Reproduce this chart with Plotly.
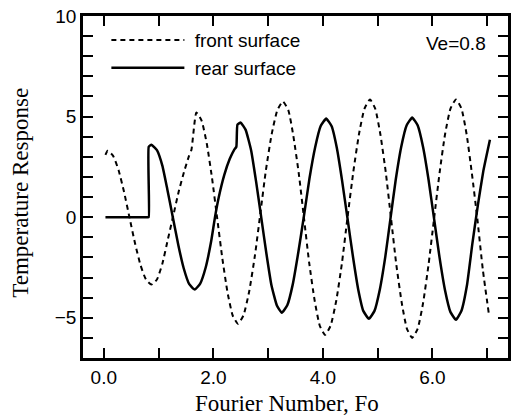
import plotly.graph_objects as go

# Front surface (dashed)
front_x = [0.03, 0.07, 0.17, 0.27, 0.37, 0.47, 0.57, 0.67, 0.77, 0.87,
           0.97, 1.07, 1.17, 1.27, 1.37, 1.47, 1.55, 1.60, 1.69,
           1.785, 1.88, 1.975, 2.07, 2.165, 2.26, 2.355, 2.45,
           2.55, 2.655, 2.76, 2.86, 2.96, 3.065, 3.17, 3.27,
           3.37, 3.46, 3.56, 3.655, 3.75, 3.85, 3.945, 4.04,
           4.14, 4.245, 4.35, 4.45, 4.555, 4.66, 4.76, 4.86,
           4.955, 5.05, 5.15, 5.245, 5.34, 5.44, 5.535, 5.63,
           5.73, 5.83, 5.93, 6.03, 6.13, 6.23, 6.33, 6.43,
           6.53, 6.625, 6.72, 6.82, 6.92, 7.03]
front_y = [3.1, 3.3, 3.05, 2.33, 1.25, -0.03, -1.30, -2.38, -3.1, -3.35,
           -3.1, -2.3, -1.1, 0.1, 1.3, 2.3, 3.0, 3.35, 5.2,
           4.8, 3.66, 1.96, -0.05, -2.06, -3.76, -4.9, -5.3,
           -4.88, -3.68, -1.89, 0.225, 2.34, 4.13, 5.33, 5.75,
           5.31, 4.05, 2.17, -0.05, -2.27, -4.15, -5.41, -5.85,
           -5.4, -4.14, -2.24, 0.0, 2.24, 4.14, 5.4, 5.85,
           5.4, 4.11, 2.19, -0.075, -2.34, -4.26, -5.55, -6.0,
           -5.55, -4.26, -2.34, -0.075, 2.19, 4.11, 5.4, 5.85,
           5.4, 4.11, 2.19, -0.075, -2.6, -4.8]

# Rear surface (solid)
rear_x = [0.03, 0.79, 0.82, 0.82, 0.87, 0.97, 1.07, 1.16, 1.26, 1.36, 1.46, 1.56, 1.66,
          1.76, 1.86, 1.96, 2.03, 2.10, 2.20, 2.30, 2.38, 2.42, 2.44, 2.50,
          2.59, 2.69, 2.78, 2.875, 2.97, 3.06, 3.16, 3.25,
          3.35, 3.45, 3.55, 3.655, 3.755, 3.86, 3.96, 4.06,
          4.16, 4.255, 4.35, 4.45, 4.55, 4.645, 4.74, 4.84,
          4.94, 5.04, 5.14, 5.235, 5.33, 5.43, 5.53, 5.63,
          5.73, 5.83, 5.93, 6.03, 6.13, 6.23, 6.33, 6.43,
          6.53, 6.63, 6.73, 6.83, 6.93, 7.05]
rear_y = [0.0, 0.0, 0.0, 3.5, 3.6, 3.33, 2.55, 1.38, 0.0, -1.38, -2.55, -3.33, -3.6,
          -3.3, -2.5, -1.2, 0.0, 1.0, 2.1, 2.9, 3.35, 3.5, 4.6, 4.7,
          4.34, 3.32, 1.78, -0.025, -1.83, -3.37, -4.39, -4.75,
          -4.38, -3.34, -1.77, 0.075, 1.92, 3.49, 4.53, 4.9,
          4.52, 3.44, 1.83, -0.075, -1.98, -3.59, -4.67, -5.05,
          -4.67, -3.59, -1.96, -0.05, 1.86, 3.49, 4.57, 4.95,
          4.57, 3.48, 1.85, -0.075, -2.0, -3.63, -4.72, -5.1,
          -4.65, -3.4, -1.3, 0.6, 2.3, 3.85]

series_names = ["\u00a0front surface", "\u00a0rear surface"]
x_tick_vals = [0, 1, 2, 3, 4, 5, 6, 7]
x_tick_text = ["0.0", "", "2.0", "", "4.0", "", "6.0", ""]
y_tick_vals = [-7, -6, -5, -4, -3, -2, -1, 0, 1, 2, 3, 4, 5, 6, 7, 8, 9, 10]
y_tick_text = ["", "", "\u22125", "", "", "", "", "0", "", "", "", "", "5", "", "", "", "", "10"]
x_range = [-0.38, 7.38]
y_range = [-7, 10]

fig = go.Figure()
fig.add_trace(go.Scatter(x=front_x, y=front_y, mode="lines", name=series_names[0],
                         line=dict(color="black", width=2, dash="5px,4px",
                                   shape="spline", smoothing=0.5)))
fig.add_trace(go.Scatter(x=rear_x, y=rear_y, mode="lines", name=series_names[1],
                         line=dict(color="black", width=2.5, shape="spline", smoothing=0.4)))

tickfont = dict(family="Liberation Sans", size=19, color="black")
common = dict(ticks="inside", ticklen=10, tickwidth=2, tickcolor="black",
              showline=True, linecolor="black", linewidth=2.5, mirror="allticks",
              showgrid=False, zeroline=False, tickfont=tickfont)

fig.update_layout(
    xaxis=dict(range=x_range, tickmode="array", tickvals=x_tick_vals, ticktext=x_tick_text,
               **common),
    yaxis=dict(range=y_range, tickmode="array", tickvals=y_tick_vals, ticktext=y_tick_text,
               ticklabelstandoff=0, **common),
)

fig.add_annotation(text="Fourier Number, Fo", xref="paper", yref="paper",
                   x=0.479, y=-0.1345, xanchor="center", yanchor="middle", showarrow=False,
                   font=dict(family="Liberation Serif", size=23, color="black"))
fig.add_annotation(text="Temperature Response", xref="paper", yref="paper",
                   x=-0.147, y=0.482, xanchor="center", yanchor="middle", showarrow=False,
                   textangle=-90,
                   font=dict(family="Liberation Serif", size=23, color="black"))
fig.add_annotation(text="Ve=0.8", xref="paper", yref="paper",
                   x=0.877, y=0.921, xanchor="center", yanchor="middle", showarrow=False,
                   font=dict(family="Liberation Sans", size=19, color="black"))

fig.update_layout(width=513, height=417, margin=dict(l=83, r=2, t=16, b=59),
                  paper_bgcolor="white", plot_bgcolor="white",
                  showlegend=True,
                  legend=dict(x=0.055, y=0.985, xanchor="left", yanchor="top",
                              bgcolor="rgba(0,0,0,0)", itemwidth=73,
                              font=dict(family="Liberation Sans", size=19, color="black")))

fig.write_html("out.html", config={"displayModeBar": False},
               post_script="document.body.style.margin='0';")
